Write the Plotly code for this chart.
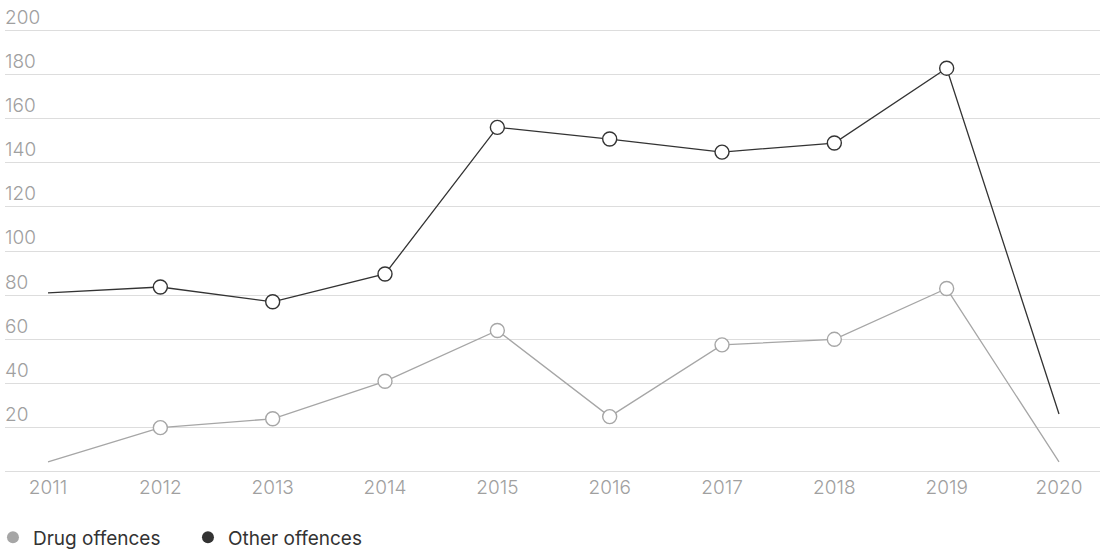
import plotly.graph_objects as go

years = [2011, 2012, 2013, 2014, 2015, 2016, 2017, 2018, 2019, 2020]
drug_offences = [4.5, 20, 24, 41, 64, 25, 57.5, 60, 83, 4.5]
other_offences = [81, 83.7, 77, 89.6, 156, 150.7, 144.8, 148.9, 182.8, 26.2]
y_ticks = [0, 20, 40, 60, 80, 100, 120, 140, 160, 180, 200]
y_tick_text = [""] + [str(v) for v in y_ticks[1:]]

drug_color = "#a6a6a6"
other_color = "#333333"
marker_sizes = [0] + [14] * (len(years) - 2) + [0]

fig = go.Figure()
for name, vals, col in [("Drug offences", drug_offences, drug_color),
                        ("Other offences", other_offences, other_color)]:
    fig.add_trace(go.Scatter(
        x=years, y=vals, mode="lines+markers", name=name, showlegend=False,
        line=dict(color=col, width=1.3),
        marker=dict(size=marker_sizes, color="white", opacity=1,
                    line=dict(color=col, width=1.4)),
    ))
for name, col in [("Drug offences", drug_color), ("Other offences", other_color)]:
    fig.add_trace(go.Scatter(
        x=[None], y=[None], mode="markers", name=name,
        marker=dict(size=10, color=col),
    ))

fig.update_layout(
    width=1100, height=550,
    margin=dict(l=5, r=0, t=28, b=76, autoexpand=False),
    paper_bgcolor="white", plot_bgcolor="white",
    font=dict(family="Inter, Roboto, sans-serif", size=19, color="#a0a0a0"),
    showlegend=True,
    legend=dict(orientation="h", x=-0.011, xanchor="left", y=-0.142, yanchor="middle",
                font=dict(size=19, color="#333333"), entrywidth=150,
                itemsizing="constant"),
    xaxis=dict(range=[2010.617, 2020.365], tickvals=years, showgrid=False,
               zeroline=False, showline=False, ticks="",
               tickfont=dict(size=19, color="#a0a0a0", weight=300)),
    yaxis=dict(range=[-1, 201], tickvals=y_ticks, ticktext=y_tick_text,
               ticklabelposition="inside top", ticklabelstandoff=-3,
               ticklabeloverflow="allow",
               showgrid=True, gridcolor="#dddddd",
               gridwidth=1, zeroline=False, showline=False, ticks="",
               tickfont=dict(size=19, color="#a0a0a0", weight=300)),
)

fig.write_html("out.html", config={"displayModeBar": False},
               post_script="document.body.style.margin='0';")
